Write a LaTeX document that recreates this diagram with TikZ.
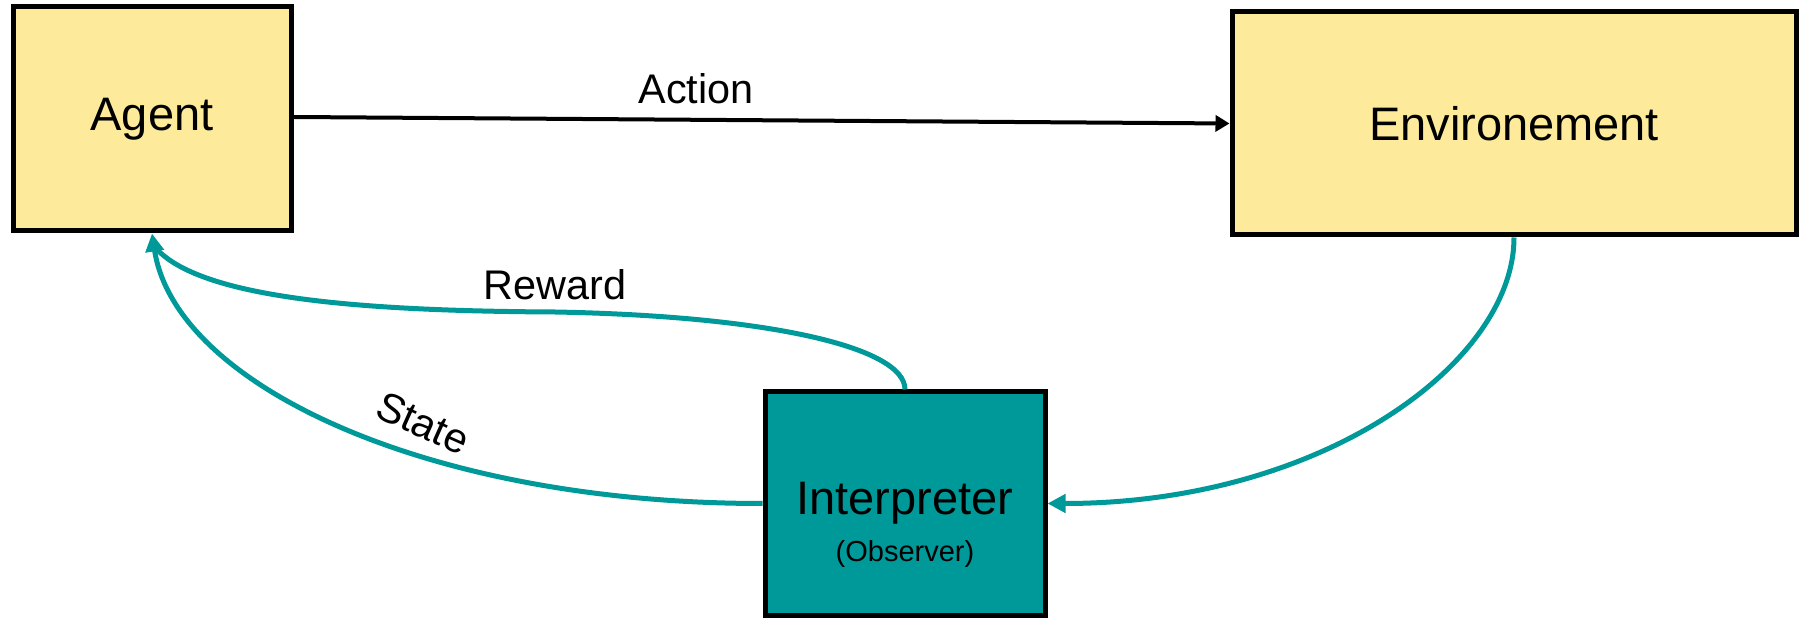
\documentclass[tikz,border=0pt]{standalone}
\usepackage{fontspec}
\setmainfont{Liberation Sans}
\usepackage{tikz}
\usetikzlibrary{arrows.meta,positioning}
\definecolor{boxyellow}{RGB}{253, 235, 155}
\definecolor{interpteal}{RGB}{0, 153, 153}

\begin{document}
\begin{tikzpicture}[x=0.5pt, y=-0.5pt,
    yellowbox/.style={draw=black, fill=boxyellow, line width=2.5pt, minimum height=112pt, inner sep=0pt, font=\fontsize{23.5}{28}\selectfont},
    tealbox/.style={yellowbox, fill=interpteal},
    tealflow/.style={draw=interpteal, line width=2.5pt},
    tealtip/.style={-{Triangle[length=9pt, width=9pt]}},
    flowlabel/.style={inner sep=2pt, font=\fontsize{20.7}{25}\selectfont}]
    \useasboundingbox (0,0) rectangle (1803,619);

    \node[yellowbox, minimum width=139pt] (agent) at (152,119) {Agent};
    \node[yellowbox, minimum width=282pt, minimum height=111.5pt] (env) at (1514,123.5) {Environement};
    \node[tealbox, minimum width=140pt, minimum height=111.5pt] (interp) at (905,503.5) {Interpreter};
    \node[font=\fontsize{14.5}{17}\selectfont] (observer) at ([yshift=-25pt]interp.center) {(Observer)};
    \coordinate (rewardmid) at (555,312);

    \draw[line width=2pt, -{Triangle[length=7pt, width=8pt]}] ([yshift=1pt]agent.east) -- (env.west)
        node[flowlabel, pos=0.43, above=5pt] {Action};
    \draw[tealflow, tealtip] (env.south) .. controls +(0,125) and +(275,0) .. (interp.east);
    \draw[tealflow, tealtip] (interp.west) .. controls +(-338,0) and +(23,150) .. (agent.south);
    \draw[tealflow] (interp.north) .. controls +(0,-42) and +(215,4) .. (rewardmid)
        node[flowlabel, above=3pt] {Reward}
        .. controls +(-195,-1) and +(40,55) .. ([yshift=-5pt]agent.south);
    \node[flowlabel, rotate=-24] (statelabel) at (423,423) {State};
\end{tikzpicture}
\end{document}
